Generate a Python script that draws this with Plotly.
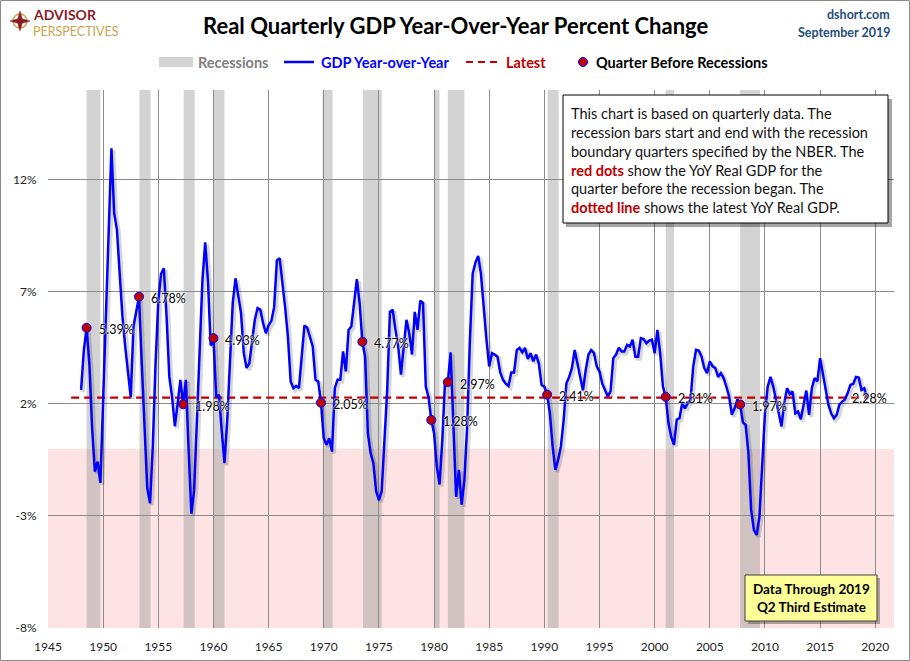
import plotly.graph_objects as go

# quarterly real GDP, percent change from the same quarter a year earlier, 1948Q1 .. 2019Q2
start_year = 1948
gdp_yoy = [
    2.62, 4.40, 5.39, 3.80,     # 1948
    0.90, -1.03, -0.58, -1.52,  # 1949
    2.20, 5.70, 9.40, 13.40,    # 1950
    10.50, 9.76, 7.80, 5.90,    # 1951
    4.55, 3.50, 2.30, 5.45,     # 1952
    6.20, 6.78, 3.80, 1.10,     # 1953
    -1.77, -2.44, 0.10, 3.80,   # 1954
    6.60, 7.80, 8.05, 5.90,     # 1955
    3.20, 2.30, 1.00, 2.00,     # 1956
    3.07, 1.98, 3.07, -0.06,    # 1957
    -2.90, -1.85, 1.10, 4.70,   # 1958
    7.50, 9.20, 7.50, 4.60,     # 1959
    4.93, 2.30, 2.40, 0.80,     # 1960
    -0.65, 1.30, 3.80, 6.50,    # 1961
    7.60, 6.80, 6.05, 4.26,     # 1962
    3.60, 3.80, 4.70, 5.75,     # 1963
    6.27, 6.20, 5.60, 5.15,     # 1964
    5.50, 5.70, 6.30, 8.40,     # 1965
    8.50, 7.50, 6.30, 5.00,     # 1966
    3.00, 2.70, 2.80, 2.70,     # 1967
    4.10, 5.50, 5.40, 5.00,     # 1968
    4.56, 3.07, 3.00, 2.05,     # 1969
    0.47, 0.17, 0.47, -0.13,    # 1970
    2.70, 3.07, 3.07, 4.34,     # 1971
    3.45, 5.30, 5.45, 6.50,     # 1972
    7.56, 6.50, 4.77, 4.10,     # 1973
    0.68, -0.20, -0.65, -1.90,  # 1974
    -2.30, -1.90, 0.40, 2.60,   # 1975
    6.10, 6.20, 5.30, 4.56,     # 1976
    3.30, 4.56, 5.75, 5.15,     # 1977
    4.20, 6.10, 5.30, 6.60,     # 1978
    6.50, 2.77, 2.30, 1.28,     # 1979
    0.69, -0.80, -1.60, 0.40,   # 1980
    3.07, 2.97, 4.30, 1.10,     # 1981
    -2.15, -0.95, -2.50, -1.40, # 1982
    1.00, 4.86, 7.80, 8.30,     # 1983
    8.60, 7.80, 6.20, 4.86,     # 1984
    3.67, 4.26, 4.20, 4.10,     # 1985
    3.40, 3.07, 2.90, 2.80,     # 1986
    3.40, 3.40, 4.40, 4.50,     # 1987
    4.30, 4.50, 4.00, 4.26,     # 1988
    3.90, 4.20, 3.80, 2.84,     # 1989
    2.77, 2.41, 1.58, 0.10,     # 1990
    -0.95, -0.50, 0.10, 1.28,   # 1991
    2.92, 3.20, 3.60, 4.40,     # 1992
    3.80, 3.20, 2.60, 3.50,     # 1993
    4.20, 4.40, 4.26, 3.67,     # 1994
    3.44, 2.90, 2.65, 2.33,     # 1995
    2.55, 4.04, 4.20, 4.50,     # 1996
    4.34, 4.34, 4.63, 4.56,     # 1997
    4.86, 4.10, 4.10, 4.93,     # 1998
    4.89, 4.70, 4.82, 4.86,     # 1999
    4.26, 5.30, 4.26, 2.77,     # 2000
    2.31, 1.14, 0.54, 0.17,     # 2001
    1.29, 1.36, 2.03, 1.80,     # 2002
    2.03, 2.18, 3.67, 4.41,     # 2003
    4.38, 4.10, 3.60, 3.37,     # 2004
    3.90, 3.67, 3.60, 3.20,     # 2005
    3.37, 3.15, 2.77, 2.33,     # 2006
    1.51, 1.80, 2.20, 1.97,     # 2007
    1.17, 1.06, -0.20, -2.74,   # 2008
    -3.63, -3.85, -3.04, -0.50, # 2009
    1.58, 2.77, 3.20, 2.77,     # 2010
    2.18, 1.43, 0.99, 2.03,     # 2011
    2.70, 2.44, 2.55, 1.58,     # 2012
    1.66, 1.31, 1.88, 2.59,     # 2013
    1.51, 2.70, 3.15, 3.00,     # 2014
    4.04, 3.37, 2.62, 1.96,     # 2015
    1.58, 1.36, 1.51, 1.96,     # 2016
    2.10, 2.20, 2.48, 2.85,     # 2017
    2.89, 3.20, 3.17, 2.62,     # 2018
    2.70, 2.28,                 # 2019
]

# quarter before each recession and its YoY value
dot_quarters = ["1948Q3", "1953Q2", "1957Q2", "1960Q1", "1969Q4", "1973Q3",
                "1979Q4", "1981Q2", "1990Q2", "2001Q1", "2007Q4"]
dot_values = [5.39, 6.78, 1.98, 4.93, 2.05, 4.77, 1.28, 2.97, 2.41, 2.31, 1.97]

# recession bars (decimal years)
recession_start = [1948.5, 1953.3, 1957.3, 1960.0, 1969.9, 1973.55,
                   1980.0, 1981.25, 1990.3, 2001.0, 2007.75]
recession_end = [1949.75, 1954.3, 1958.3, 1961.0, 1970.8, 1975.25,
                 1980.5, 1982.75, 1991.3, 2001.75, 2009.55]

latest_value = 2.28
latest_span = [1947.1, 2019.25]

x_ticks = list(range(1945, 2021, 5))
y_ticks = [-8, -3, 2, 7, 12]

FONT = "Lato"
BLUE = "#0000FF"
DARKRED = "#C00000"

W, H = 910, 661
L, R, T, B = 48, 16, 90, 33
PW, PH = W - L - R, H - T - B


def px(x):
    return (x - L) / PW


def py(y):
    return (H - B - y) / PH


def qx(q):
    return int(q[:4]) + (int(q[-1]) - 1) / 4


qdates = [start_year + i / 4 for i in range(len(gdp_yoy))]
dot_x = [qx(q) for q in dot_quarters]

fig = go.Figure()

# soft drop shadow under the line
fig.add_trace(go.Scatter(
    x=[d + 0.18 for d in qdates], y=[v - 0.09 for v in gdp_yoy],
    mode="lines", line=dict(color="rgba(0,0,0,0.16)", width=4),
    hoverinfo="skip", showlegend=False,
))

fig.add_trace(go.Scatter(
    x=latest_span, y=[latest_value, latest_value],
    mode="lines", line=dict(color=DARKRED, width=2.2, dash="8px,5px"),
    showlegend=False, name="Latest",
))

fig.add_trace(go.Scatter(
    x=qdates, y=gdp_yoy, mode="lines",
    line=dict(color=BLUE, width=2.5),
    showlegend=False, name="GDP Year-over-Year",
))

fig.add_trace(go.Scatter(
    x=dot_x, y=dot_values, mode="markers",
    marker=dict(size=9, color=DARKRED, line=dict(color=BLUE, width=1)),
    showlegend=False, name="Quarter Before Recessions",
))

shapes = []
# pink negative zone
shapes.append(dict(type="rect", xref="paper", yref="y", x0=0, x1=1, y0=-8, y1=0,
                   fillcolor="#FDE3E4", line=dict(width=0), layer="below"))
for s, e in zip(recession_start, recession_end):
    shapes.append(dict(type="rect", xref="x", yref="paper", x0=s, x1=e, y0=0, y1=1,
                       fillcolor="rgb(150,150,150)", opacity=0.42,
                       line=dict(width=0), layer="below"))

# outer frame
shapes.append(dict(type="rect", xref="paper", yref="paper",
                   x0=px(0.5), x1=px(W - 0.5), y0=py(H - 0.5), y1=py(0.5),
                   line=dict(color="#8a8a8a", width=1)))

# note box with shadow
shapes.append(dict(type="rect", xref="paper", yref="paper",
                   x0=px(566), x1=px(892), y0=py(227), y1=py(99),
                   fillcolor="rgba(0,0,0,0.35)", line=dict(width=0)))
shapes.append(dict(type="rect", xref="paper", yref="paper",
                   x0=px(563), x1=px(888), y0=py(223), y1=py(95),
                   fillcolor="white", line=dict(color="black", width=1)))

# data-through box with shadow
shapes.append(dict(type="rect", xref="paper", yref="paper",
                   x0=px(748), x1=px(880), y0=py(624), y1=py(578),
                   fillcolor="rgba(0,0,0,0.3)", line=dict(width=0)))
shapes.append(dict(type="rect", xref="paper", yref="paper",
                   x0=px(745), x1=px(877), y0=py(621), y1=py(575),
                   fillcolor="#FFFF99", line=dict(color="#404040", width=1)))

# legend swatches
shapes.append(dict(type="rect", xref="paper", yref="paper",
                   x0=px(159), x1=px(193), y0=py(67), y1=py(57),
                   fillcolor="#D3D3D3", line=dict(width=0)))
shapes.append(dict(type="line", xref="paper", yref="paper",
                   x0=px(284), x1=px(314), y0=py(62), y1=py(62),
                   line=dict(color=BLUE, width=2.5)))
shapes.append(dict(type="line", xref="paper", yref="paper",
                   x0=px(466), x1=px(501), y0=py(62), y1=py(62),
                   line=dict(color=DARKRED, width=2, dash="7px,5px")))
shapes.append(dict(type="circle", xref="paper", yref="paper",
                   x0=px(578.5), x1=px(587.5), y0=py(66.5), y1=py(57.5),
                   fillcolor=DARKRED, line=dict(color=BLUE, width=1)))

# logo compass
cx, cy = 20, 21
shapes.append(dict(type="circle", xref="paper", yref="paper",
                   x0=px(cx - 7), x1=px(cx + 7), y0=py(cy + 7), y1=py(cy - 7),
                   line=dict(color="#C9A54A", width=1.5)))
star = [(cx, cy - 10), (cx + 2.2, cy - 2.2), (cx + 10, cy), (cx + 2.2, cy + 2.2),
        (cx, cy + 10), (cx - 2.2, cy + 2.2), (cx - 10, cy), (cx - 2.2, cy - 2.2)]
path = "M " + " L ".join(f"{px(a):.5f},{py(b):.5f}" for a, b in star) + " Z"
shapes.append(dict(type="path", xref="paper", yref="paper", path=path,
                   fillcolor="#8B1C24", line=dict(color="#8B1C24", width=0.5)))

annotations = []


def note(x, y, text, size, color="black", anchor="left", bold=False, **kw):
    annotations.append(dict(
        xref="paper", yref="paper", x=px(x), y=py(y), text=text, showarrow=False,
        xanchor=anchor, yanchor="middle", borderpad=0,
        font=dict(family=FONT, size=size, color=color, weight="bold" if bold else "normal"),
        **kw,
    ))


note(455, 25, "Real Quarterly GDP Year-Over-Year Percent Change", 22, anchor="center", bold=True)
note(32, 15, "ADVISOR", 14, color="#8B1C24", bold=True)
note(32, 31, "PERSPECTIVES", 12.5, color="#C9A54A")
note(891, 14, "dshort.com", 12.5, color="#1F4E79", anchor="right", bold=True)
note(891, 33, "September 2019", 12.5, color="#1F4E79", anchor="right", bold=True)

note(197, 62, "Recessions", 14.5, color="#7F7F7F", bold=True)
note(320, 62, "GDP Year-over-Year", 14.5, color=BLUE, bold=True)
note(505, 62, "Latest", 14.5, color=DARKRED, bold=True)
note(595, 62, "Quarter Before Recessions", 14.5, bold=True)

box_text = (
    "This chart is based on quarterly data. The<br>"
    "recession bars start and end with the recession<br>"
    "boundary quarters specified by the NBER. The<br>"
    f"<span style='color:{DARKRED}'><b>red dots</b></span> show the YoY Real GDP for the<br>"
    "quarter before the recession began. The<br>"
    f"<span style='color:{DARKRED}'><b>dotted line</b></span> shows the latest YoY Real GDP."
)
annotations.append(dict(
    xref="paper", yref="paper", x=px(569), y=py(160), text=box_text, showarrow=False,
    xanchor="left", yanchor="middle", align="left",
    font=dict(family=FONT, size=14.5, color="#111111"),
))

annotations.append(dict(
    xref="paper", yref="paper", x=px(811), y=py(598),
    text="Data Through 2019<br>Q2 Third Estimate", showarrow=False,
    xanchor="center", yanchor="middle", align="center",
    font=dict(family=FONT, size=13.5, color="black", weight="bold"),
))

# value labels next to the red dots
for x, v in zip(dot_x, dot_values):
    annotations.append(dict(
        xref="x", yref="y", x=x, y=v, text=f"{v:.2f}%", showarrow=False,
        xanchor="left", yanchor="middle", xshift=10, yshift=-2,
        font=dict(family=FONT, size=12.5, color="black",
                  shadow="0px 0px 2px white, 0px 0px 2px white"),
    ))
annotations.append(dict(
    xref="x", yref="y", x=latest_span[1] + 0.25, y=latest_value,
    text=f"{latest_value:.2f}%", showarrow=False,
    xanchor="center", yanchor="middle", yshift=-1,
    font=dict(family=FONT, size=12.5, color="black",
              shadow="0px 0px 2px white, 0px 0px 2px white"),
))

fig.update_layout(
    width=W, height=H,
    margin=dict(l=L, r=R, t=T, b=B),
    paper_bgcolor="white", plot_bgcolor="white",
    font=dict(family=FONT, size=12, color="#222222"),
    showlegend=False,
    shapes=shapes,
    annotations=annotations,
    xaxis=dict(
        range=[1945, 2021.7], tickvals=x_ticks, ticktext=[str(t) for t in x_ticks],
        showgrid=True, gridcolor="#8c8c8c", gridwidth=1, zeroline=False,
        showline=False, ticks="outside", ticklen=8, tickcolor="rgba(0,0,0,0)",
        automargin=False, tickfont=dict(family=FONT, size=12, color="#222222"),
    ),
    yaxis=dict(
        range=[-8, 16], tickvals=y_ticks, ticktext=[f"{t}%" for t in y_ticks],
        showgrid=True, gridcolor="#8c8c8c", gridwidth=1, zeroline=False,
        showline=False, ticks="outside", ticklen=8, tickcolor="rgba(0,0,0,0)",
        automargin=False, tickfont=dict(family=FONT, size=12, color="#222222"),
    ),
)

fig.write_html("out.html", config={"displayModeBar": False},
               post_script="document.body.style.margin='0';")
